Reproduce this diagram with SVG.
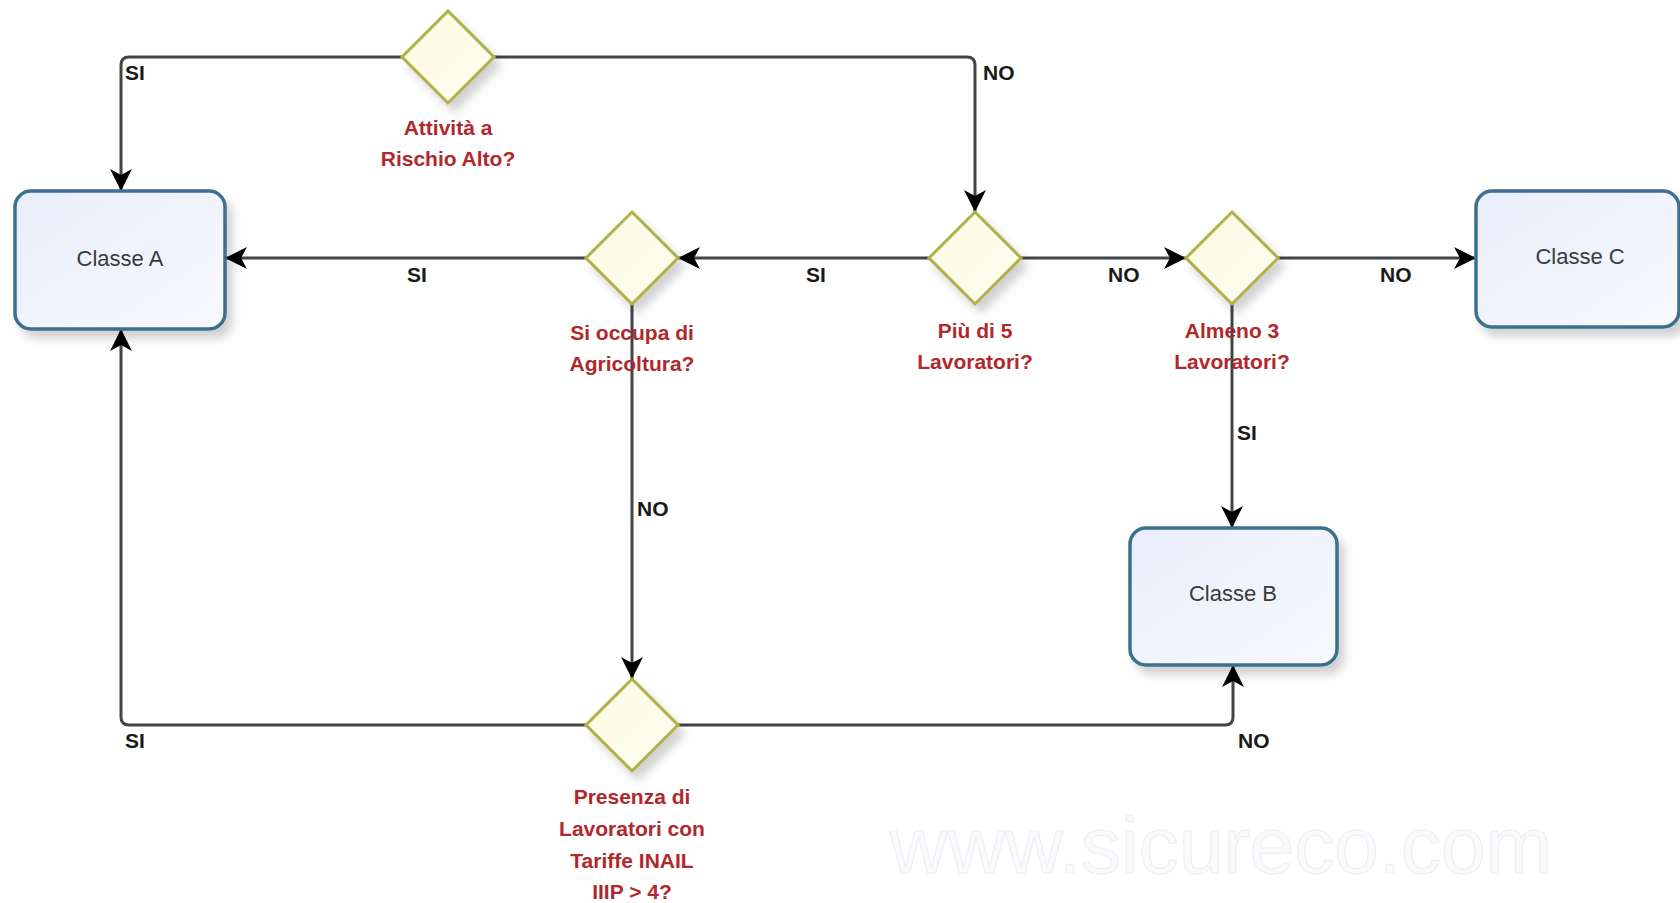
<svg xmlns="http://www.w3.org/2000/svg" width="1680" height="903" viewBox="0 0 1680 903">
<style>
.box{fill:url(#boxg);stroke:#3d7090;stroke-width:3.5;filter:url(#sh)}
.dia{fill:url(#diag);stroke:#b0b046;stroke-width:3;filter:url(#sh)}
.btxt{font-family:"Liberation Sans",Arial,sans-serif;font-size:22px;fill:#3a3a3a;text-anchor:middle}
.q{font-family:"Liberation Sans",Arial,sans-serif;font-size:21px;font-weight:bold;fill:#b0282c;text-anchor:middle}
.lbl{font-family:"Liberation Sans",Arial,sans-serif;font-size:21px;font-weight:bold;fill:#1a1a1a}
.con{fill:none;stroke:#444;stroke-width:3;marker-end:url(#arr)}
</style>
<defs>
<linearGradient id="boxg" x1="0" y1="0" x2="1" y2="1"><stop offset="0" stop-color="#e8eefb"/><stop offset="1" stop-color="#f8f9fd"/></linearGradient>
<linearGradient id="diag" x1="0" y1="0" x2="1" y2="1"><stop offset="0" stop-color="#fbfbe0"/><stop offset="1" stop-color="#fefef4"/></linearGradient>
<filter id="sh" x="-20%" y="-20%" width="150%" height="150%"><feDropShadow dx="6" dy="8" stdDeviation="5" flood-color="#000" flood-opacity="0.18"/></filter>
<marker id="arr" markerUnits="userSpaceOnUse" markerWidth="24" markerHeight="24" viewBox="0 0 24 24" refX="22" refY="12" orient="auto"><path d="M0,1 L22,12 L0,23 L6,12 Z" fill="#000"/></marker>
</defs>
<text x="1221" y="873" text-anchor="middle" font-family="Liberation Sans,Arial,sans-serif" font-size="80" fill="#fafafc" stroke="#eeeef4" stroke-width="1.2">www.sicureco.com</text>
<g id="connectors">
<path class="con" d="M402,57 H129 Q121,57 121,65 V191"/>
<path class="con" d="M494,57 H967 Q975,57 975,65 V212"/>
<path class="con" d="M929,258 H678"/>
<path class="con" d="M586,258 H225"/>
<path class="con" d="M1021,258 H1186"/>
<path class="con" d="M1278,258 H1476"/>
<path class="con" d="M1232,304 V528"/>
<path class="con" d="M632,304 V679"/>
<path class="con" d="M586,725 H129 Q121,725 121,717 V329"/>
<path class="con" d="M678,725 H1225 Q1233,725 1233,717 V665"/>
<text class="lbl" x="125" y="80">SI</text>
<text class="lbl" x="983" y="80">NO</text>
<text class="lbl" x="407" y="282">SI</text>
<text class="lbl" x="806" y="282">SI</text>
<text class="lbl" x="1108" y="282">NO</text>
<text class="lbl" x="1380" y="282">NO</text>
<text class="lbl" x="1237" y="440">SI</text>
<text class="lbl" x="637" y="516">NO</text>
<text class="lbl" x="125" y="748">SI</text>
<text class="lbl" x="1238" y="748">NO</text>
</g>
<g id="classeA"><rect class="box" x="15" y="191" width="210" height="138" rx="16"/><text class="btxt" x="120" y="266">Classe A</text></g>
<g id="classeB"><rect class="box" x="1130" y="528" width="207" height="137" rx="16"/><text class="btxt" x="1233" y="601">Classe B</text></g>
<g id="classeC"><rect class="box" x="1476" y="191" width="203" height="136" rx="16"/><text class="btxt" x="1580" y="264">Classe C</text></g>
<g id="d1"><path class="dia" d="M448,11 L494,57 L448,103 L402,57 Z"/><text class="q" x="448" y="135">Attività a</text><text class="q" x="448" y="166">Rischio Alto?</text></g>
<g id="d2"><path class="dia" d="M975,212 L1021,258 L975,304 L929,258 Z"/><text class="q" x="975" y="338">Più di 5</text><text class="q" x="975" y="369">Lavoratori?</text></g>
<g id="d3"><path class="dia" d="M632,212 L678,258 L632,304 L586,258 Z"/><text class="q" x="632" y="340">Si occupa di</text><text class="q" x="632" y="371">Agricoltura?</text></g>
<g id="d4"><path class="dia" d="M1232,212 L1278,258 L1232,304 L1186,258 Z"/><text class="q" x="1232" y="338">Almeno 3</text><text class="q" x="1232" y="369">Lavoratori?</text></g>
<g id="d5"><path class="dia" d="M632,679 L678,725 L632,771 L586,725 Z"/><text class="q" x="632" y="804">Presenza di</text><text class="q" x="632" y="836">Lavoratori con</text><text class="q" x="632" y="868">Tariffe INAIL</text><text class="q" x="632" y="899">IIIP &gt; 4?</text></g>
</svg>
